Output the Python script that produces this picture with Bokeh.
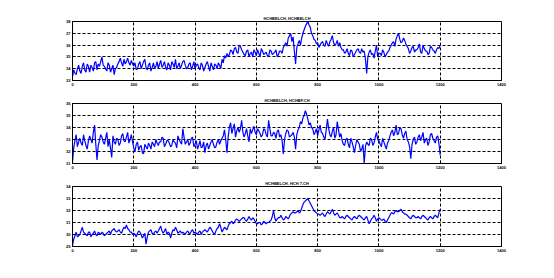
from bokeh.plotting import figure
from bokeh.layouts import column
from bokeh.models import FixedTicker, Range1d
from bokeh.embed import file_html
from bokeh.resources import INLINE

titles = ["HCHBELCH, HCHBELCH", "HCHBELCH, HCHBF.CH", "HCHBELCH, HCH 7.CH"]

# observations at even sample positions (0, 8, 16, ... 1200)
y1 = [33.3, 33.6, 34.0,
      33.8, 34.2, 33.9, 34.4, 33.7, 34.1, 34.5, 33.9, 34.2,
      35.0,
      34.2, 33.8, 34.3, 34.0, 33.5, 34.1,
      34.6, 34.5, 34.8, 34.6, 34.5, 34.7,
      34.2, 33.9, 34.4, 34.0, 34.6, 34.1, 34.3, 33.8, 34.5, 34.2, 34.0, 34.7, 34.3,
      34.1, 34.5, 33.9, 34.4, 34.8, 34.2, 34.0, 34.6, 34.3, 34.1, 34.5, 34.2,
      34.0, 34.4, 33.9, 34.3, 34.1, 34.6, 33.8, 34.2, 34.4, 34.0, 34.3,
      34.8, 35.1, 35.3, 35.2,
      35.5, 35.7, 35.4, 36.0, 35.6,
      35.2, 35.5, 35.0, 35.4, 35.6, 35.1, 35.3, 35.7, 35.2, 35.4, 35.0, 35.5, 35.3, 35.6, 35.2,
      35.5, 35.8, 36.2, 36.6,
      37.0, 36.7,
      34.4,
      36.1, 36.0,
      37.0, 37.6, 38.0, 37.5,
      36.8, 36.4, 36.2,
      36.0, 36.3, 35.9, 36.1,
      36.3, 36.8, 36.0, 36.4, 36.2,
      35.6, 35.3, 35.7, 35.1, 35.5, 35.2, 35.6, 35.4,
      35.7, 35.5, 33.6, 35.4,
      35.2, 34.9, 36.0, 35.3,
      35.1, 35.4, 35.2, 35.5,
      36.0, 36.3, 36.5, 37.0, 36.2, 36.6, 36.1,
      35.7, 35.5, 35.9, 35.6,
      35.8, 35.4, 36.0, 35.5, 35.2, 35.9, 35.6, 35.3, 35.8, 36.0]

# observations in between (4, 12, 20, ... 1196)
y1_mid = [33.9, 33.5, 34.3, 33.6, 34.5, 33.7, 34.2, 34.3, 33.8, 34.6,
          34.4, 34.6, 34.3, 34.0, 34.5, 33.7, 34.3, 34.0, 34.4, 34.9,
          34.2, 34.4, 34.9, 34.3, 34.4, 34.5, 34.0, 34.6, 34.3, 34.8,
          33.9, 34.5, 34.1, 34.0, 34.6, 34.4, 34.1, 34.6, 33.9, 34.3,
          34.6, 34.1, 34.0, 34.5, 34.3, 34.7, 34.0, 34.4, 33.9, 34.6,
          34.3, 34.1, 34.5, 33.8, 34.4, 34.2, 34.5, 33.9, 34.3, 34.5,
          34.0, 34.5, 34.9, 35.0, 35.6, 35.2, 35.8, 35.3, 35.9, 35.4,
          35.1, 35.6, 35.3, 35.0, 35.4, 35.6, 35.0, 35.5, 35.3, 35.1,
          35.6, 35.2, 35.4, 35.0, 35.5, 35.3, 36.0, 35.9, 36.8, 36.3,
          35.5, 35.8, 36.4, 36.6, 37.3, 37.8, 37.7, 37.0, 36.5, 36.1,
          35.8, 36.2, 36.0, 36.4, 35.9, 36.5, 36.2, 36.1, 35.9, 35.8,
          35.6, 35.4, 35.3, 35.6, 35.0, 35.4, 35.7, 35.3, 35.4, 34.8,
          35.0, 35.6, 35.3, 35.5, 35.0, 35.3, 35.6, 35.0, 35.4, 35.8,
          36.2, 35.9, 36.8, 36.5, 36.3, 36.4, 35.9, 35.3, 35.8, 35.4,
          35.6, 36.1, 35.3, 35.7, 35.5, 35.3, 35.8, 35.5, 35.6, 35.7]

y2 = [31.1, 32.9, 32.4,
      33.1, 32.5, 32.9, 32.2, 33.3, 32.7, 34.2,
      31.3,
      32.9, 33.2, 32.6, 33.6, 33.0, 31.5, 32.8, 33.1, 32.5, 33.3, 32.9, 33.2, 32.7, 33.4,
      32.3, 32.6, 32.1, 32.5, 31.8, 32.4, 32.7, 32.2, 32.6, 33.0, 32.5, 32.8, 33.1,
      32.6, 32.9, 32.4, 33.0, 32.7, 33.3, 32.8, 33.9, 32.6, 33.0, 32.7, 33.2,
      32.6, 32.2, 32.9, 32.4, 31.9, 32.7, 32.5, 33.0, 32.3, 32.8, 32.6, 33.1,
      33.8, 31.9, 34.0, 33.5, 34.3, 33.7,
      33.6, 34.6, 33.2, 33.9, 32.8, 33.5, 34.1,
      33.4, 33.7, 33.2, 33.9, 33.4, 34.6, 33.3, 33.6, 33.1, 33.8, 33.4, 31.8, 33.5, 33.7, 33.3,
      33.6, 32.2, 33.8,
      34.5, 34.8, 35.4, 34.7,
      34.4, 33.9,
      33.6, 33.3, 34.2, 33.5, 33.0, 34.7, 33.4, 33.7, 33.1, 34.5, 33.2,
      32.9, 32.5, 33.1, 32.3, 32.8, 31.9, 33.0, 32.6, 32.2,
      31.0, 32.8, 32.5, 33.0, 32.7,
      33.6, 32.9, 32.4, 32.8, 32.2, 32.9,
      33.6, 33.3, 34.2, 33.5, 33.9, 33.1, 33.7,
      32.8, 31.4, 33.0, 32.6,
      33.2, 32.9, 33.6, 33.0, 32.5, 33.4, 33.1, 32.7, 33.3, 31.7]

y2_mid = [32.3, 33.4, 32.8, 32.7, 33.4, 32.5, 32.9, 33.0, 33.6, 32.6,
          32.5, 33.4, 32.8, 33.1, 32.4, 32.3, 33.3, 32.6, 33.0, 32.7,
          33.5, 32.8, 33.6, 33.0, 32.8, 32.0, 32.8, 32.4, 31.9, 32.6,
          32.2, 32.5, 32.8, 32.4, 32.7, 32.8, 33.2, 32.4, 32.9, 32.7,
          32.5, 32.8, 32.3, 33.0, 32.6, 33.2, 32.8, 32.5, 33.1, 32.4,
          32.9, 32.5, 32.3, 32.8, 32.5, 32.2, 32.8, 32.6, 32.4, 33.0,
          32.9, 33.3, 33.0, 33.2, 34.4, 33.9, 33.2, 34.0, 33.9, 33.6,
          33.5, 33.3, 33.9, 33.8, 33.6, 33.9, 33.5, 33.4, 33.8, 33.2,
          33.9, 33.3, 33.5, 33.7, 33.2, 32.9, 33.0, 33.8, 33.2, 33.4,
          33.2, 33.4, 34.0, 34.3, 35.0, 35.1, 34.2, 34.0, 33.4, 33.9,
          33.8, 33.6, 33.2, 33.8, 33.9, 33.2, 34.0, 33.4, 33.8, 33.5,
          32.6, 33.0, 32.6, 33.1, 32.4, 32.5, 32.8, 32.0, 32.6, 32.4,
          32.6, 33.1, 32.5, 33.2, 33.0, 32.6, 33.1, 32.5, 32.7, 33.3,
          33.8, 33.6, 33.4, 34.0, 33.4, 33.5, 33.0, 32.4, 32.6, 33.2,
          32.8, 33.4, 33.2, 32.7, 33.1, 32.8, 33.5, 32.9, 33.2, 32.6]

y3 = [29.1, 29.9, 29.8, 30.0,
      30.6,
      30.1, 29.9, 30.2, 30.0, 30.3, 29.9, 30.1, 30.2, 29.9, 30.1, 30.3,
      30.3, 30.5, 30.2, 30.4, 30.1, 30.6, 30.8, 30.4, 30.2,
      30.1, 29.8, 30.3, 30.0, 29.9, 29.2, 30.2, 30.4, 30.0, 30.3,
      30.3, 30.7, 30.1, 30.5, 30.2, 29.7, 30.4, 30.6, 30.1, 30.3,
      30.2, 30.0, 30.3, 30.1, 30.4, 30.2, 30.0, 30.3, 30.2,
      30.4, 30.2, 30.6, 30.3, 30.0, 30.5, 30.9, 30.2, 30.6, 30.4,
      30.9, 31.1, 31.0, 31.3, 31.1,
      31.3, 31.4, 31.1, 31.5, 31.2, 31.3,
      30.9, 31.0, 30.8, 31.1, 30.9, 31.0,
      31.2, 32.0, 31.1, 31.4, 31.6, 31.2, 31.5, 31.3,
      31.7, 31.9, 31.8, 32.0, 31.9,
      32.5, 32.8, 33.0, 32.6,
      32.2, 31.9, 31.7, 31.6, 31.8, 31.5,
      31.9, 31.7, 32.1, 31.6, 31.8, 31.4,
      31.5, 31.3, 31.6, 31.4, 31.2, 31.5, 31.3, 31.6, 31.4,
      31.2, 31.5, 30.9, 31.3, 31.6, 31.1, 31.4,
      31.2, 31.3, 31.0, 31.4,
      31.8, 31.7, 32.0, 31.9, 32.1, 31.8, 31.7,
      31.5, 31.3, 31.6, 31.4,
      31.5, 31.3, 31.6, 31.4, 31.2, 31.5, 31.3, 31.6, 31.4, 32.1]

y3_mid = [29.6, 30.2, 29.9, 30.3, 30.2, 30.0, 30.2, 29.8, 30.1, 30.0,
          30.2, 30.0, 30.1, 30.0, 30.2, 30.0, 30.4, 30.3, 30.3, 30.2,
          30.4, 30.5, 30.5, 30.2, 30.0, 30.0, 30.1, 30.2, 29.7, 30.1,
          29.8, 30.3, 30.1, 30.2, 30.1, 30.5, 30.3, 30.3, 30.0, 30.1,
          30.1, 30.3, 30.4, 30.2, 30.1, 30.1, 30.2, 30.1, 30.3, 30.1,
          30.1, 30.2, 30.0, 30.3, 30.3, 30.4, 30.5, 30.1, 30.3, 30.6,
          30.6, 30.4, 30.5, 30.7, 31.0, 30.9, 31.2, 31.2, 31.2, 31.4,
          31.2, 31.3, 31.3, 31.4, 31.1, 30.9, 31.0, 30.9, 31.0, 31.0,
          31.1, 31.5, 31.4, 31.3, 31.4, 31.4, 31.3, 31.4, 31.5, 31.8,
          31.8, 31.9, 31.8, 32.2, 32.7, 32.9, 32.8, 32.4, 32.0, 31.8,
          31.7, 31.7, 31.6, 31.7, 31.8, 31.9, 31.8, 31.7, 31.6, 31.4,
          31.4, 31.5, 31.5, 31.3, 31.4, 31.4, 31.5, 31.5, 31.3, 31.4,
          31.2, 31.1, 31.4, 31.4, 31.3, 31.3, 31.2, 31.1, 31.2, 31.6,
          31.8, 31.9, 31.9, 32.0, 31.9, 31.7, 31.6, 31.4, 31.5, 31.5,
          31.4, 31.4, 31.5, 31.5, 31.3, 31.4, 31.4, 31.5, 31.5, 31.8]

x_ticks = [0, 200, 400, 600, 800, 1000, 1200, 1400]
y_ticks = [[33, 34, 35, 36, 37, 38], [31, 32, 33, 34, 35, 36], [29, 30, 31, 32, 33, 34]]


def interleave(main, mid):
    out = []
    for a, b in zip(main, mid):
        out.append(a)
        out.append(b)
    out.append(main[-1])
    return out


series = [interleave(y1, y1_mid), interleave(y2, y2_mid), interleave(y3, y3_mid)]
sample_x = [4 * i for i in range(len(series[0]))]

figs = []
for k in range(3):
    top = 21 if k == 0 else 14
    fh = 59 if k == 0 else 60
    h = top + fh + 9
    yt = y_ticks[k]
    p = figure(width=554, height=h, output_backend="svg", toolbar_location=None,
               x_range=Range1d(0, 1400), y_range=Range1d(yt[0], yt[-1]),
               min_border_left=72, min_border_right=53,
               min_border_top=top, min_border_bottom=9)
    p.title.text = titles[k]
    p.title.align = "center"
    p.title.text_font = "Liberation Sans"
    p.title.text_font_size = "4px"
    p.title.text_font_style = "bold"
    p.title.text_color = "black"
    p.title.standoff = 2
    p.line(sample_x, series[k], line_color="#0000ff", line_width=1.2)
    p.xaxis.ticker = FixedTicker(ticks=x_ticks)
    p.yaxis.ticker = FixedTicker(ticks=yt)
    for ax in (p.xaxis[0], p.yaxis[0]):
        ax.major_tick_in = 3
        ax.major_tick_out = 0
        ax.minor_tick_in = 0
        ax.minor_tick_out = 0
        ax.major_label_text_font = "Liberation Sans"
        ax.major_label_text_font_size = "4px"
        ax.major_label_text_font_style = "bold"
        ax.major_label_text_color = "black"
        ax.major_label_standoff = 2
        ax.axis_line_color = "black"
        ax.major_tick_line_color = "black"
    p.xgrid.ticker = FixedTicker(ticks=x_ticks)
    p.ygrid.ticker = FixedTicker(ticks=yt)
    for g in (p.xgrid[0], p.ygrid[0]):
        g.grid_line_color = "black"
        g.grid_line_dash = "3 2"
        g.grid_line_width = 1
    p.outline_line_color = "black"
    p.outline_line_width = 1
    p.outline_line_alpha = 1
    p.background_fill_color = "white"
    p.border_fill_color = "white"
    figs.append(p)

layout = column(*figs, spacing=0)
open("out.html", "w").write(file_html(layout, INLINE))
